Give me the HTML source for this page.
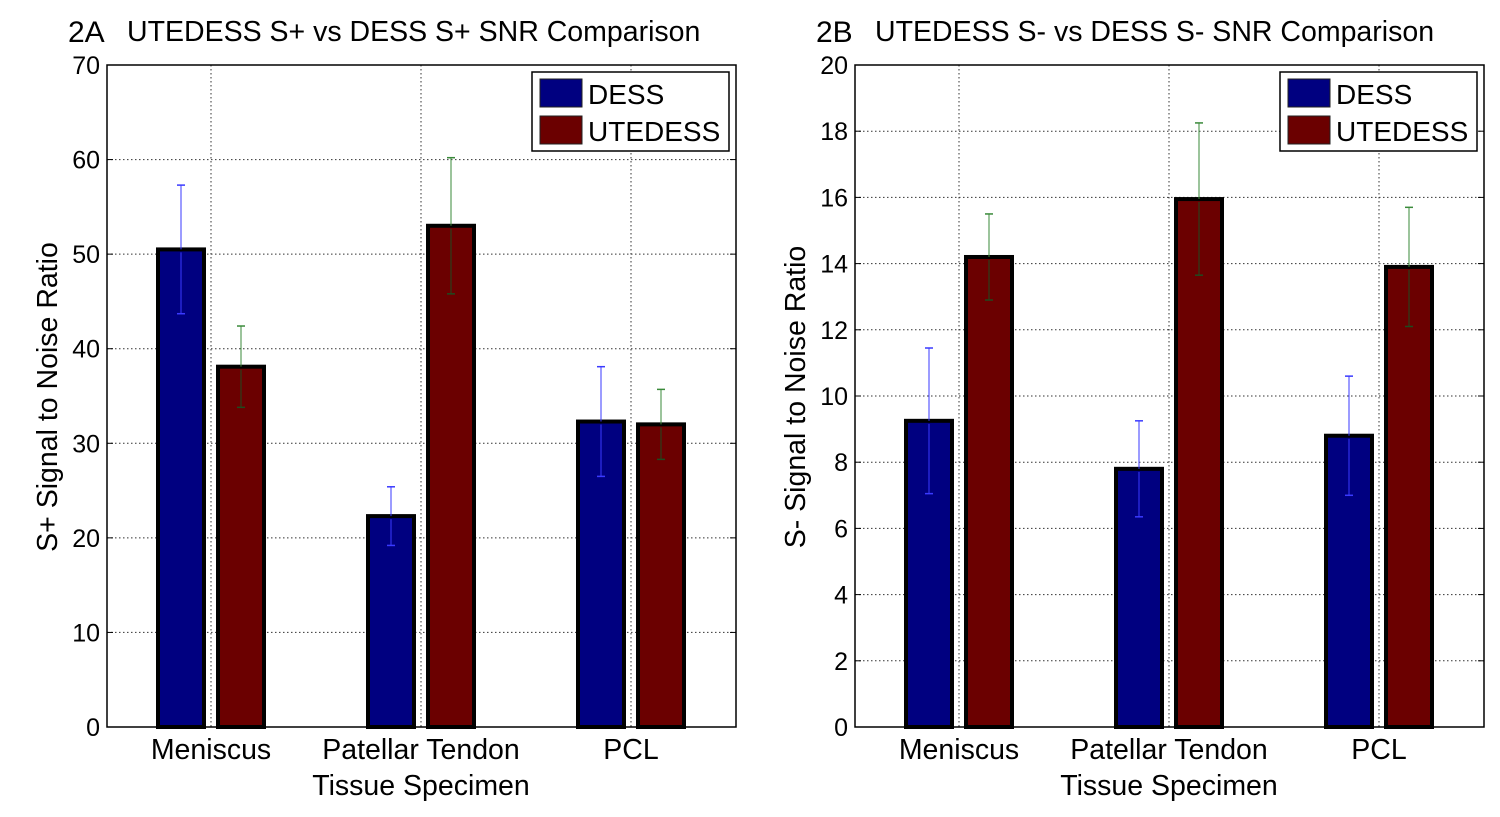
<!DOCTYPE html>
<html><head><meta charset="utf-8"><style>
html,body{margin:0;padding:0;background:#fff;}
svg{display:block;font-family:"Liberation Sans",Arial,sans-serif;}
</style></head><body>
<svg id="c" width="1500" height="817"></svg>
<script>
const categories = ["Meniscus", "Patellar Tendon", "PCL"];
const seriesNames = ["DESS", "UTEDESS"];
const dessA = [50.5, 22.3, 32.3];
const uteA = [38.1, 53.0, 32.0];
const dessErrA = [6.8, 3.1, 5.8];
const uteErrA = [4.3, 7.2, 3.7];
const ticksA = [0, 10, 20, 30, 40, 50, 60, 70];
const dessB = [9.25, 7.8, 8.8];
const uteB = [14.2, 15.95, 13.9];
const dessErrB = [2.2, 1.45, 1.8];
const uteErrB = [1.3, 2.3, 1.8];
const ticksB = [0, 2, 4, 6, 8, 10, 12, 14, 16, 18, 20];

const NS = "http://www.w3.org/2000/svg";
const svg = document.getElementById("c");
function mk(tag, attrs, parent, text) {
  const e = document.createElementNS(NS, tag);
  for (const k in attrs) e.setAttribute(k, attrs[k]);
  if (text !== undefined) e.textContent = text;
  (parent || svg).appendChild(e);
  return e;
}
const colors = ["#000080", "#6b0000"];
const errUp = ["#3a3aff", "#3a8a3a"];
const errDn = ["#3a3aff", "#1f4a1f"];

function panel(id, x0, letter, title, ylab, dess, ute, dErr, uErr, ticks) {
  const g = mk("g", {});
  
  
  const L = x0, R = x0 + 629, T = 65, B = 727;
  const ymax = ticks[ticks.length - 1];
  const y = v => B - v / ymax * (B - T);
  const xc = i => L + 104 + i * 210;
  ticks.forEach(t => {
    if (t > 0 && t < ymax) {
      const gl = mk("line", {x1: L, x2: R, y1: y(t), y2: y(t), stroke: "#333", "stroke-width": 1, "stroke-dasharray": "1.5,2.5"}, g);
      
      
    }
    const tl = mk("text", {x: L - 7, y: y(t) + 9, "text-anchor": "end", "font-size": 25}, g, String(t));
    
    
    mk("line", {x1: L, x2: L + 6, y1: y(t), y2: y(t), stroke: "#000"}, g);
    mk("line", {x1: R, x2: R - 6, y1: y(t), y2: y(t), stroke: "#000"}, g);
  });
  categories.forEach((c, i) => {
    const gl = mk("line", {x1: xc(i), x2: xc(i), y1: T, y2: B, stroke: "#333", "stroke-width": 1, "stroke-dasharray": "1.5,2.5"}, g);
    
    
    const cl = mk("text", {x: xc(i), y: 759, "text-anchor": "middle", "font-size": 28.5}, g, c);
    
    
    [dess, ute].forEach((arr, s) => {
      const errs = s === 0 ? dErr : uErr;
      const cx = xc(i) + (s === 0 ? -30 : 30);
      const v = arr[i];
      const bar = mk("rect", {x: cx - 23, y: y(v), width: 46, height: B - y(v), fill: colors[s], stroke: "#000", "stroke-width": 4}, g);
      
      
      const e = errs[i];
      const eg = mk("g", {}, g);
      
      
      mk("line", {x1: cx, x2: cx, y1: y(v + e), y2: y(v), stroke: errUp[s], "stroke-width": 1}, eg);
      mk("line", {x1: cx, x2: cx, y1: y(v) + 3, y2: y(v - e), stroke: errDn[s], "stroke-width": 1}, eg);
      mk("line", {x1: cx - 4, x2: cx + 4, y1: y(v + e), y2: y(v + e), stroke: errUp[s], "stroke-width": 1.5}, eg);
      mk("line", {x1: cx - 4, x2: cx + 4, y1: y(v - e), y2: y(v - e), stroke: errDn[s], "stroke-width": 1.5}, eg);
    });
  });
  const ax = mk("rect", {x: L, y: T, width: R - L, height: B - T, fill: "none", stroke: "#000", "stroke-width": 1.5}, g);
  
  
  const lt = mk("text", {x: L - 39, y: 42, "font-size": 30}, g, letter);
  
  
  const ttl = mk("text", {x: L + 20, y: 41, "font-size": 28.5}, g, title);
  
  
  const xl = mk("text", {x: L + 314, y: 795, "text-anchor": "middle", "font-size": 28.5}, g, "Tissue Specimen");
  
  
  const yl = mk("text", {x: 0, y: 0, "text-anchor": "middle", "font-size": 28.5, transform: `translate(${L - 50},397) rotate(-90)`}, g, ylab);
  
  
  const lg = mk("g", {}, g);
  
  
  mk("rect", {x: L + 425, y: 72, width: 197, height: 79, fill: "#fff", stroke: "#000", "stroke-width": 1.5}, lg);
  seriesNames.forEach((n, s) => {
    const le = mk("g", {}, lg);
    
    
    mk("rect", {x: L + 433, y: 79 + s * 37, width: 42, height: 28, fill: colors[s], stroke: "#222", "stroke-width": 1}, le);
    mk("text", {x: L + 481, y: 104 + s * 37, "font-size": 28}, le, n);
  });
}
panel("panel-2a", 107, "2A", "UTEDESS S+ vs DESS S+ SNR Comparison", "S+ Signal to Noise Ratio", dessA, uteA, dessErrA, uteErrA, ticksA);
panel("panel-2b", 855, "2B", "UTEDESS S- vs DESS S- SNR Comparison", "S- Signal to Noise Ratio", dessB, uteB, dessErrB, uteErrB, ticksB);
</script>
</body></html>
